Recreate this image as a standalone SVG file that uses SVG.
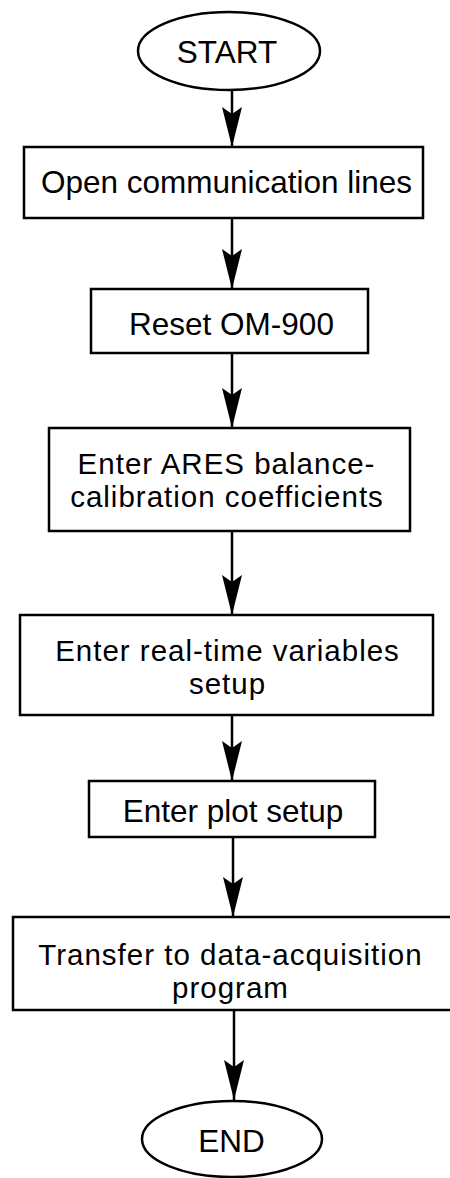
<svg xmlns="http://www.w3.org/2000/svg" width="450" height="1178" viewBox="0 0 450 1178">
<style>
.n{fill:#fff;stroke:#000;stroke-width:2.5}
.t{font-family:"Liberation Sans",Arial,Helvetica,sans-serif;font-size:31.5px;fill:#000;text-anchor:middle}
.t2{font-family:"Liberation Sans",Arial,Helvetica,sans-serif;font-size:29.5px;letter-spacing:1px;fill:#000;text-anchor:middle}
.c{stroke:#000;stroke-width:2.5;fill:none}
</style>
<defs>
<marker id="ah" markerUnits="userSpaceOnUse" viewBox="-42 -12 44 24" markerWidth="44" markerHeight="24" refX="0" refY="0" orient="auto">
<path d="M0,0 L-40,-10 L-33,0 L-40,10 Z" fill="#000"/>
</marker>
</defs>
<rect width="450" height="1178" fill="#fff"/>
<g id="connectors">
<line class="c" x1="232" y1="90" x2="232" y2="147" marker-end="url(#ah)"/>
<line class="c" x1="232" y1="218" x2="232" y2="289" marker-end="url(#ah)"/>
<line class="c" x1="232" y1="353" x2="232" y2="428" marker-end="url(#ah)"/>
<line class="c" x1="232" y1="531" x2="232" y2="615" marker-end="url(#ah)"/>
<line class="c" x1="232" y1="715" x2="232" y2="781" marker-end="url(#ah)"/>
<line class="c" x1="233" y1="837" x2="233" y2="917" marker-end="url(#ah)"/>
<line class="c" x1="234" y1="1010" x2="234" y2="1100" marker-end="url(#ah)"/>
</g>
<g id="start">
<ellipse class="n" cx="229" cy="51" rx="91" ry="39"/>
<text class="t" x="227" y="63">START</text>
</g>
<g id="open">
<rect class="n" x="24" y="147" width="399" height="71"/>
<text class="t" x="226.5" y="193">Open communication lines</text>
</g>
<g id="reset">
<rect class="n" x="91" y="289" width="277" height="64"/>
<text class="t" x="231.5" y="335">Reset OM-900</text>
</g>
<g id="ares">
<rect class="n" x="49" y="428" width="361" height="103"/>
<text class="t2" x="226.5" y="474">Enter ARES balance-</text>
<text class="t2" x="227" y="507">calibration coefficients</text>
</g>
<g id="realtime">
<rect class="n" x="20" y="615" width="413" height="100"/>
<text class="t2" x="227.5" y="661">Enter real-time variables</text>
<text class="t2" x="227.5" y="694">setup</text>
</g>
<g id="plot">
<rect class="n" x="89" y="781" width="286" height="56"/>
<text class="t" x="233" y="822">Enter plot setup</text>
</g>
<g id="transfer">
<rect class="n" x="13" y="917" width="440" height="93"/>
<text class="t2" x="230.5" y="965">Transfer to data-acquisition</text>
<text class="t2" x="230.5" y="998">program</text>
</g>
<g id="end">
<ellipse class="n" cx="232" cy="1139" rx="90" ry="38"/>
<text class="t" x="231.5" y="1152">END</text>
</g>
</svg>
